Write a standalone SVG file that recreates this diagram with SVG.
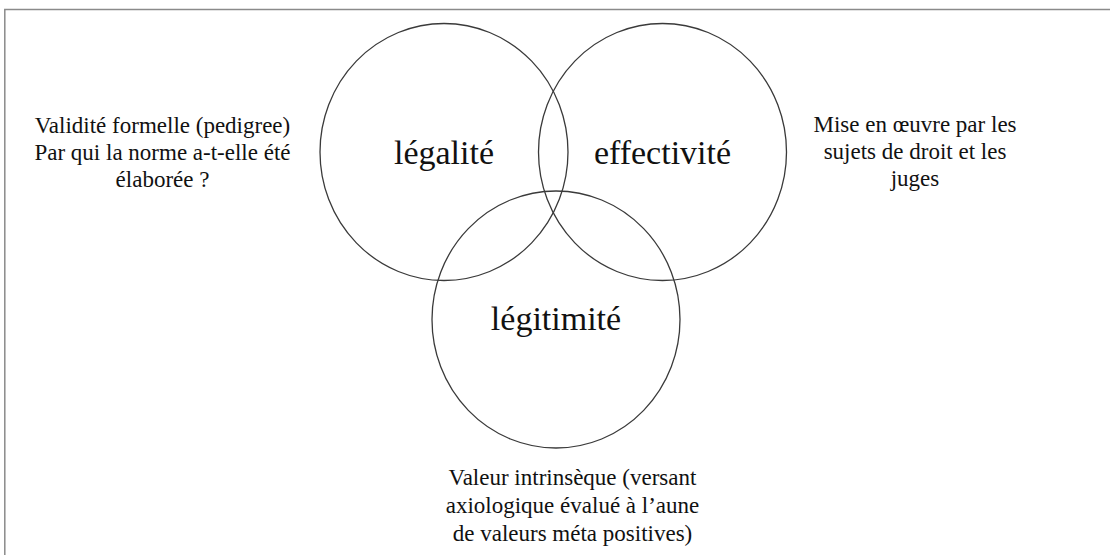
<svg xmlns="http://www.w3.org/2000/svg" width="1110" height="555" viewBox="0 0 1110 555">
<style>
.ring{fill:none;stroke:#3a3a3a;stroke-width:1.3}
.big,.note{font-family:'Liberation Serif',serif !important;fill:#111;text-anchor:middle}
.big{font-size:34px}
.note{font-size:23px}
.frame{fill:none;stroke:#8a8a8a;stroke-width:1.5}
</style>
<rect width="1110" height="555" fill="#fff"/>
<path class="frame" d="M1110 9.5 H4.8 V555"/>
<g id="legalite">
<ellipse class="ring" cx="444" cy="152" rx="124" ry="128.5"/>
<text class="big" x="444" y="164" style="font-family:'Liberation Serif',serif">légalité</text>
</g>
<g id="effectivite">
<ellipse class="ring" cx="662.5" cy="152" rx="124" ry="128.5"/>
<text class="big" x="662.5" y="164" style="font-family:'Liberation Serif',serif">effectivité</text>
</g>
<g id="legitimite">
<ellipse class="ring" cx="556" cy="319.5" rx="124" ry="128.5"/>
<text class="big" x="556" y="330" style="font-family:'Liberation Serif',serif">légitimité</text>
</g>
<g id="note-legalite">
<text class="note" x="162.5" y="132.5" style="font-family:'Liberation Serif',serif">Validité formelle (pedigree)</text>
<text class="note" x="162.5" y="160" style="font-family:'Liberation Serif',serif">Par qui la norme a-t-elle été</text>
<text class="note" x="162.5" y="187" style="font-family:'Liberation Serif',serif">élaborée ?</text>
</g>
<g id="note-effectivite">
<text class="note" x="915" y="132" style="font-family:'Liberation Serif',serif">Mise en œuvre par les</text>
<text class="note" x="915" y="159" style="font-family:'Liberation Serif',serif">sujets de droit et les</text>
<text class="note" x="915" y="186" style="font-family:'Liberation Serif',serif">juges</text>
</g>
<g id="note-legitimite">
<text class="note" x="572.5" y="485" style="font-family:'Liberation Serif',serif">Valeur intrinsèque (versant</text>
<text class="note" x="572.5" y="513" style="font-family:'Liberation Serif',serif">axiologique évalué à l’aune</text>
<text class="note" x="572.5" y="540.5" style="font-family:'Liberation Serif',serif">de valeurs méta positives)</text>
</g>
<g id="connectors"></g>
</svg>
